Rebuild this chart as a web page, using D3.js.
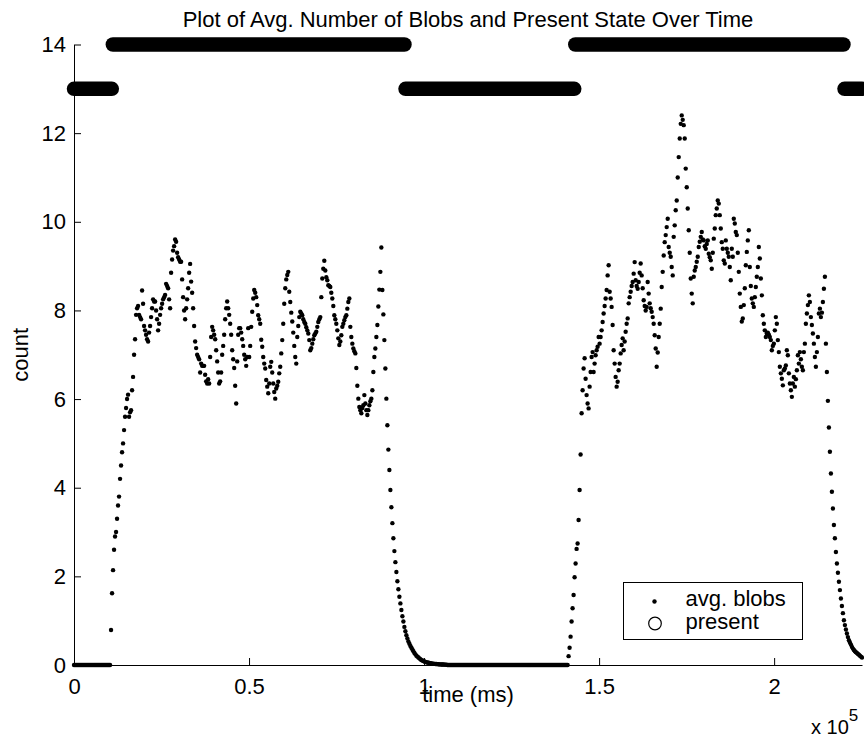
<!DOCTYPE html>
<html>
<head>
<meta charset="utf-8">
<script src="https://cdn.jsdelivr.net/npm/d3@7"></script>
<style>
  body { margin: 0; background: #ffffff; }
  svg { display: block; font-family: Arial, "Liberation Sans", Helvetica, sans-serif; }
</style>
</head>
<body>
<svg id="chart" width="864" height="738"></svg>
<script>
/*
 * Avg. number of blobs (one value per frame) and the present state over time.
 */

var sampleMs = 286; // time between frames
var xMax = 225100;

// avg. blobs, one entry per frame starting at t = 0
var avgBlobs = [
  0, 0, 0, 0, 0, 0, 0, 0, 0, 0,
  0, 0, 0, 0, 0, 0, 0, 0, 0, 0,
  0, 0, 0, 0, 0, 0, 0, 0, 0, 0,
  0, 0, 0, 0, 0, 0, 0,
  // first period
  0.79, 1.62, 2.14, 2.6, 2.9, 3.0, 3.3, 3.6, 3.8, 4.2,
  4.5, 4.8, 5.0, 5.3, 5.6, 5.8, 6.0, 6.1, 5.6, 5.7,
  5.75, 6.2, 6.5, 7.0, 7.35, 7.9, 8.05, 8.1, 7.9, 7.85,
  7.8, 8.45, 8.15, 7.65, 7.55, 7.45, 7.35, 7.3, 7.5, 7.65,
  7.85, 8.05, 8.25, 8.2, 8.2, 8.0, 7.8, 7.55, 7.7, 7.9,
  8.05, 8.15, 8.25, 8.3, 8.35, 8.6, 8.55, 8.5, 8.25, 8.05,
  8.85, 9.15, 9.35, 9.45, 9.6, 9.55, 9.3, 9.2, 9.15, 9.1,
  9.1, 8.7, 8.3, 8.0, 7.8, 8.05, 8.25, 8.5, 8.85, 9.05,
  8.65, 8.4, 8.05, 7.65, 7.3, 7.15, 7.0, 6.95, 6.9, 6.6,
  6.8, 6.75, 6.75, 6.75, 6.55, 6.4, 6.35, 6.45, 6.35, 6.95,
  7.4, 7.63, 7.55, 7.45, 7.35, 7.1, 6.85, 6.6, 6.35, 6.4,
  6.6, 7.0, 7.2, 7.45, 7.8, 8.05, 8.2, 8.05, 7.9, 7.7,
  7.45, 7.1, 6.9, 6.7, 6.3, 5.9, 6.85, 7.45, 7.6, 7.6,
  7.5, 7.35, 7.2, 7.0, 6.9, 6.75, 6.95, 7.6, 6.95, 7.2,
  7.63, 7.97, 8.27, 8.46, 8.4, 8.3, 8.12, 7.89, 7.8, 7.7,
  7.34, 7.18, 6.95, 6.8, 6.69, 6.43, 6.28, 6.13, 6.35, 6.73,
  6.84, 6.6, 6.35, 6.16, 6.01, 6.24, 6.3, 6.39, 6.58, 6.73,
  7.03, 7.33, 7.7, 8.15, 8.5, 8.7, 8.8, 8.87, 8.42, 8.19,
  7.95, 7.75, 7.5, 7.2, 6.95, 6.8, 7.4, 7.65, 7.85, 7.97,
  7.93, 7.89, 7.8, 7.74, 7.7, 7.62, 7.55, 7.48, 7.33, 7.1,
  7.15, 7.25, 7.35, 7.44, 7.48, 7.52, 7.63, 7.74, 7.8, 7.85,
  8.3, 8.72, 8.94, 9.12, 8.9, 8.75, 8.68, 8.57, 8.55, 8.53,
  8.4, 8.27, 8.1, 7.89, 7.8, 7.7, 7.55, 7.37, 7.22, 7.3,
  7.44, 7.63, 7.7, 7.78, 7.85, 7.89, 8.04, 8.19, 8.27, 7.63,
  7.4, 7.25, 7.14, 7.08, 7.03, 6.7, 6.3, 6.01, 5.82, 5.75,
  5.68, 5.8, 5.86, 6.09, 5.9, 5.75, 5.64, 5.75, 5.86, 5.95,
  6.01, 6.2, 6.61, 6.95, 7.14, 7.4, 7.67, 8.09, 8.47, 8.87,
  9.42, 8.46, 7.91, 7.33, 6.69, 6.01, 5.41, 4.86, 4.4, 3.95,
  3.56, 3.2, 2.86, 2.57, 2.32, 2.1, 1.89, 1.71, 1.54, 1.39,
  1.24, 1.1, 0.98, 0.86, 0.76, 0.67, 0.6, 0.53, 0.48, 0.43,
  0.39, 0.35, 0.31, 0.27, 0.24, 0.21, 0.19, 0.17, 0.15, 0.13,
  0.11, 0.1, 0.09, 0.08, 0.07, 0.06, 0.055, 0.05, 0.045, 0.04,
  0.036, 0.032, 0.029, 0.026, 0.023, 0.021, 0.019, 0.017, 0.015, 0.013,
  0.012, 0.011, 0.01, 0.009, 0.008, 0.007,
  // nobody there
  0, 0, 0, 0, 0, 0, 0, 0, 0, 0,
  0, 0, 0, 0, 0, 0, 0, 0, 0, 0,
  0, 0, 0, 0, 0, 0, 0, 0, 0, 0,
  0, 0, 0, 0, 0, 0, 0, 0, 0, 0,
  0, 0, 0, 0, 0, 0, 0, 0, 0, 0,
  0, 0, 0, 0, 0, 0, 0, 0, 0, 0,
  0, 0, 0, 0, 0, 0, 0, 0, 0, 0,
  0, 0, 0, 0, 0, 0, 0, 0, 0, 0,
  0, 0, 0, 0, 0, 0, 0, 0, 0, 0,
  0, 0, 0, 0, 0, 0, 0, 0, 0, 0,
  0, 0, 0, 0, 0, 0, 0, 0, 0, 0,
  0, 0, 0, 0, 0, 0, 0, 0, 0, 0,
  0,
  // second period
  0.2, 0.39, 0.64,
  0.98, 1.28, 1.58, 1.98, 2.29, 2.62, 2.74, 3.27, 3.95, 4.75,
  5.68, 6.2, 6.69, 6.92, 6.46, 6.09, 5.9, 5.79, 6.28, 6.61,
  6.95, 7.06, 6.61, 6.8, 6.99, 7.1, 7.18, 7.4, 7.25, 7.4,
  7.55, 7.74, 7.93, 8.1, 8.27, 8.46, 8.79, 9.02, 8.42, 8.27,
  8.08, 7.67, 7.1, 6.8, 6.5, 6.28, 6.39, 6.65, 6.8, 7.03,
  7.22, 7.37, 7.1, 7.3, 7.52, 7.7, 7.82, 8.16, 8.3, 8.42,
  8.55, 8.64, 8.83, 9.09, 8.68, 8.55, 8.49, 8.64, 8.85, 9.06,
  8.79, 8.5, 8.23, 8.1, 8.0, 8.08, 8.64, 8.38, 8.16, 8.05,
  7.97, 7.85, 7.7, 7.44, 7.14, 6.73, 7.05, 7.4, 7.7, 8.04,
  8.53, 8.87, 9.24, 9.54, 9.7, 9.88, 10.07, 9.43, 9.3, 9.21,
  8.98, 8.79, 9.66, 9.92, 10.26, 10.48, 11.0, 11.46, 11.88, 12.21,
  12.4, 12.3, 12.18, 11.88, 11.2, 10.78, 10.3, 9.81, 9.3, 8.72,
  8.38, 8.16, 8.76, 8.9, 8.98, 9.1, 9.21, 9.43, 9.55, 9.66,
  9.77, 9.6, 9.58, 9.45, 9.39, 9.5, 9.58, 9.28, 9.2, 9.13,
  8.94, 9.3, 9.62, 9.85, 10.15, 10.3, 10.48, 10.41, 10.15, 9.85,
  9.54, 9.39, 9.13, 9.06, 9.58, 9.39, 9.3, 9.21, 8.98, 8.68,
  9.39, 9.21, 10.07, 9.96, 9.77, 9.7, 9.3, 8.87, 8.38, 8.08,
  7.75, 7.82, 8.12, 8.5, 9.02, 9.32, 9.58, 9.81, 8.98, 8.55,
  8.27, 8.16, 8.08, 8.3, 8.53, 8.76, 8.98, 9.43, 9.17, 8.72,
  8.34, 7.89, 7.7, 7.55, 7.4, 7.48, 7.5, 7.45, 7.4, 7.33,
  7.1, 7.2, 7.25, 7.55, 7.85, 7.7, 7.33, 7.06, 6.73, 6.58,
  6.46, 6.31, 6.65, 6.69, 6.76, 7.1, 6.99, 6.58, 6.35, 6.2,
  6.05, 6.35, 6.5, 6.28, 6.45, 6.65, 6.99, 6.8, 7.06, 6.9,
  6.73, 6.65, 7.06, 7.25, 7.7, 7.93, 8.12, 8.34, 8.19, 7.85,
  7.67, 7.48, 7.25, 6.95, 6.73, 7.06, 7.4, 7.93, 8.04, 7.85,
  7.95, 8.19, 8.49, 8.76, 7.25, 6.61, 5.96, 5.36, 4.81, 4.32,
  3.91, 3.53, 3.16, 2.86, 2.55, 2.29, 2.08, 1.88, 1.69, 1.5,
  1.33, 1.17, 1.01, 0.9, 0.8, 0.71, 0.63, 0.56, 0.51, 0.46,
  0.41, 0.37, 0.34, 0.31, 0.29, 0.27, 0.25, 0.23, 0.21, 0.19, 0.17
];

// present state, as runs of constant value (ms)
var presentStart = [0, 11100, 94700, 143200, 220100];
var presentEnd = [10800, 94400, 142900, 219800, 225100];
var presentState = [13, 14, 13, 14, 13];

var xTicks = [0, 50000, 100000, 150000, 200000];
var xTickLabels = ['0', '0.5', '1', '1.5', '2'];
var yTicks = [0, 2, 4, 6, 8, 10, 12, 14];

var legendLabels = ['avg. blobs', 'present'];

function drawChart() {
  'use strict';
  var svg = d3.select('#chart'),
    margin = {top: 44.5, right: 2, bottom: 73, left: 74},
    width = +svg.attr('width') - margin.left - margin.right,
    height = +svg.attr('height') - margin.top - margin.bottom;

  var x = d3.scaleLinear().domain([0, xMax]).range([0, width]);
  var y = d3.scaleLinear().domain([0, 14]).range([height, 0]);

  var g = svg.append('g')
    .attr('transform', 'translate(' + margin.left + ',' + margin.top + ')');

  // X axis, ticks pointing in like matlab
  var xAxis = g.append('g')
    .attr('transform', 'translate(0,' + height + ')')
    .call(d3.axisBottom(x)
      .tickValues(xTicks)
      .tickFormat(function(d, i) { return xTickLabels[i]; })
      .tickSizeInner(-7)
      .tickSizeOuter(0)
      .tickPadding(13));

  var yAxis = g.append('g')
    .call(d3.axisLeft(y)
      .tickValues(yTicks)
      .tickSizeInner(-7)
      .tickSizeOuter(0)
      .tickPadding(8));

  [xAxis, yAxis].forEach(function(ax) {
    ax.attr('font-family', null).attr('font-size', null);
    ax.selectAll('path, line').attr('stroke', '#000').attr('stroke-width', 1);
    ax.selectAll('text').attr('fill', '#000').style('font-size', '22px');
  });

  // present state: dense rings melt into one thick band
  var line = d3.line();
  g.selectAll('.present')
    .data(presentState)
    .enter()
    .append('path')
      .attr('class', 'present')
      .attr('d', function(d, i) {
        return line([[x(presentStart[i]), y(d)], [x(presentEnd[i]), y(d)]]);
      })
      .attr('stroke', '#000')
      .attr('stroke-width', 14.5)
      .attr('stroke-linecap', 'round')
      .attr('fill', 'none');

  g.selectAll('.blob')
    .data(avgBlobs)
    .enter()
    .append('circle')
      .attr('class', 'blob')
      .attr('cx', function(d, i) { return x(i * sampleMs); })
      .attr('cy', function(d) { return y(d); })
      .attr('r', 2.2)
      .attr('fill', '#000');

  // Titles
  svg.append('text')
    .attr('x', margin.left + width / 2)
    .attr('y', 27)
    .attr('text-anchor', 'middle')
    .style('font-size', '22px')
    .text('Plot of Avg. Number of Blobs and Present State Over Time');

  svg.append('text')
    .attr('x', margin.left + width / 2)
    .attr('y', 702)
    .attr('text-anchor', 'middle')
    .style('font-size', '22px')
    .text('time (ms)');

  svg.append('text')
    .attr('transform', 'translate(28,' + (margin.top + height / 2) + ') rotate(-90)')
    .attr('text-anchor', 'middle')
    .style('font-size', '22px')
    .text('count');

  var expo = svg.append('text')
    .attr('x', 811)
    .attr('y', 734)
    .style('font-size', '20px');
  expo.append('tspan').text('x 10');
  expo.append('tspan').attr('dy', -13).style('font-size', '17px').text('5');

  // Legend
  var legend = svg.append('g').attr('transform', 'translate(623.5,582.5)');
  legend.append('rect')
    .attr('width', 179)
    .attr('height', 57)
    .attr('fill', '#fff')
    .attr('stroke', '#000')
    .attr('stroke-width', 1);
  legend.append('circle')
    .attr('cx', 31).attr('cy', 19).attr('r', 2.2).attr('fill', '#000');
  legend.append('circle')
    .attr('cx', 31.5).attr('cy', 41).attr('r', 6.3)
    .attr('fill', 'none').attr('stroke', '#000').attr('stroke-width', 1.2);
  legend.selectAll('.label')
    .data(legendLabels)
    .enter()
    .append('text')
      .attr('class', 'label')
      .attr('x', 62)
      .attr('y', function(d, i) { return 23 + i * 23.5; })
      .style('font-size', '22px')
      .text(function(d) { return d; });
}

drawChart();
</script>
</body>
</html>
